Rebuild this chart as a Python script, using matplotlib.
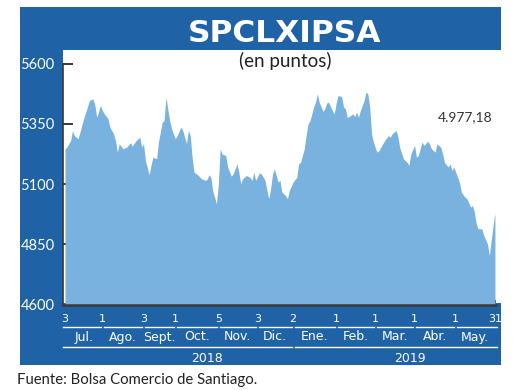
import matplotlib
matplotlib.use("Agg")
import matplotlib.pyplot as plt
import matplotlib.transforms as mtrans
from matplotlib.patches import Rectangle
from matplotlib.lines import Line2D

# ---------------- data (trading-day index, closing value) ----------------
dias = [0, 1, 3, 4, 5, 7, 9, 10, 12, 13, 15, 16, 17, 19, 20, 21, 23, 24, 26, 27,
        28, 29, 31, 33, 35, 36, 38, 40, 41, 42, 43, 45, 46, 47, 49, 50, 52, 53, 54, 55,
        56, 57, 59, 60, 62, 63, 65, 66, 67, 68, 69, 71, 73, 75, 76, 77, 78, 79, 81, 82,
        83, 84, 86, 87, 89, 90, 92, 93, 94, 95, 97, 99, 100, 101, 102, 104, 105, 107, 108, 109,
        110, 111, 112, 114, 115, 116, 118, 119, 120, 122, 124, 125, 126, 128, 129, 130, 131, 133, 134, 135,
        136, 138, 139, 140, 141, 143, 144, 145, 146, 148, 149, 150, 151, 152, 154, 155, 156, 157, 158, 160,
        161, 162, 163, 164, 165, 166, 167, 168, 170, 171, 173, 174, 175, 177, 178, 179, 181, 183, 184, 185,
        187, 188, 189, 191, 192, 194, 195, 196, 198, 199, 201, 202, 203, 205, 206, 207, 208, 210, 211, 212,
        214, 215, 217, 218, 219, 220, 221, 223, 224, 226, 227, 228, 229, 230]
cierre = [5246, 5253, 5280, 5322, 5301, 5288, 5343, 5373, 5419, 5446, 5453, 5426, 5377, 5426, 5405, 5391, 5371, 5336, 5308, 5280,
          5232, 5267, 5246, 5253, 5271, 5257, 5280, 5294, 5253, 5267, 5198, 5138, 5177, 5211, 5205, 5274, 5356, 5363, 5460, 5410,
          5363, 5329, 5288, 5301, 5336, 5322, 5267, 5322, 5301, 5211, 5149, 5138, 5122, 5115, 5119, 5138, 5128, 5073, 5018, 5094,
          5246, 5225, 5218, 5170, 5132, 5142, 5184, 5149, 5101, 5122, 5135, 5128, 5115, 5149, 5115, 5146, 5142, 5115, 5073, 5039,
          5080, 5140, 5163, 5108, 5115, 5066, 5052, 5039, 5073, 5108, 5128, 5184, 5190, 5246, 5301, 5350, 5361, 5419, 5439, 5474,
          5439, 5402, 5412, 5436, 5439, 5405, 5391, 5433, 5467, 5463, 5419, 5412, 5377, 5380, 5391, 5380, 5398, 5377, 5405, 5446,
          5481, 5474, 5419, 5308, 5274, 5250, 5232, 5239, 5267, 5280, 5301, 5294, 5308, 5322, 5301, 5253, 5205, 5190, 5177, 5225,
          5260, 5211, 5218, 5274, 5260, 5277, 5267, 5246, 5232, 5267, 5253, 5225, 5190, 5170, 5184, 5156, 5170, 5128, 5108, 5066,
          5045, 5039, 5004, 5011, 4983, 4935, 4914, 4914, 4886, 4852, 4803, 4865, 4928, 4977.18]

titulo = "SPCLXIPSA"
subtitulo = "(en puntos)"
ultimo_texto = "4.977,18"
fuente = "Fuente: Bolsa Comercio de Santiago."
yticks = [4600, 4850, 5100, 5350, 5600]
tick_pos = [0, 20, 42, 59, 82, 103, 122, 145, 166, 187, 209, 230]
tick_lab = ["3", "1", "3", "1", "5", "3", "2", "1", "1", "1", "1", "31"]
meses = ["Jul.", "Ago.", "Sept.", "Oct.", "Nov.", "Dic.", "Ene.", "Feb.", "Mar.", "Abr.", "May."]
anios = ["2018", "2019"]
anio_pos = [76, 184.5]
anio_lim = [(-1.07, 121.4), (123.2, 231.0)]

# ---------------- styling ----------------
W, H = 520, 390
AZUL = "#1f63a6"
RELLENO = "#79b1df"
OSCURO = "#3a3a3a"
NARROW = ["Liberation Sans Narrow", "DejaVu Sans"]
HUM = ["Lato", "DejaVu Sans"]

fig = plt.figure(figsize=(W / 100, H / 100), dpi=100)
fig.patch.set_facecolor("white")


def fx(px):
    return px / W


def fy(py):
    return 1 - py / H


# blue frame and white panel (pixel coords from top-left)
fig.add_artist(Rectangle((fx(20), fy(365)), fx(501) - fx(20), fy(7) - fy(365),
                         transform=fig.transFigure, facecolor=AZUL, edgecolor="none", zorder=-10))
fig.add_artist(Rectangle((fx(63), fy(302.5)), 1 - fx(63), fy(50) - fy(302.5),
                         transform=fig.transFigure, facecolor="white", edgecolor="none", zorder=-9))

x0, x1 = -1.07, 230.3
ax = fig.add_axes([fx(63), fy(304.5), fx(495.5) - fx(63), fy(63.5) - fy(304.5)])
ax.set_facecolor("none")
ax.set_xlim(x0, x1)
ax.set_ylim(4600, 5600)

ax.fill_between(dias, cierre, 4600, color=RELLENO, linewidth=0, zorder=2)

for s in ["top", "right"]:
    ax.spines[s].set_visible(False)
ax.spines["left"].set_color(OSCURO)
ax.spines["left"].set_linewidth(1.2)
ax.spines["bottom"].set_color(OSCURO)
ax.spines["bottom"].set_linewidth(1.8)
ax.spines["left"].set_zorder(3)
ax.spines["bottom"].set_zorder(3)
ax.set_axisbelow(True)

ax.set_yticks(yticks)
ax.set_yticklabels([str(v) for v in yticks], color="white", fontsize=10.5, family=HUM)
ax.tick_params(axis="y", direction="in", length=7.5, width=1.4, color=OSCURO, pad=6)
ax.set_xticks([tick_pos[-1]])
ax.set_xticklabels([])
ax.tick_params(axis="x", direction="in", length=3.5, width=1.4, color=OSCURO)

# x-axis annotations in blue band
tr = mtrans.blended_transform_factory(ax.transData, fig.transFigure)
for p, lab in zip(tick_pos, tick_lab):
    ax.text(p, fy(322.5), lab, transform=tr, ha="center", va="baseline",
            color="white", fontsize=8, family=NARROW, clip_on=False)
for i, m in enumerate(meses):
    a = tick_pos[i] + 0.9 if i > 0 else x0
    b = tick_pos[i + 1] - 0.8 if i < len(meses) - 1 else 231.0
    fig.add_artist(Line2D([a, b], [fy(326.5), fy(326.5)], transform=tr,
                          color="white", linewidth=1.0))
    ax.text((tick_pos[i] + tick_pos[i + 1]) / 2, fy(340.5), m, transform=tr,
            ha="center", va="baseline", color="white", fontsize=9, family=NARROW, clip_on=False)
for (a, b), lab, p in zip(anio_lim, anios, anio_pos):
    fig.add_artist(Line2D([a, b], [fy(347), fy(347)], transform=tr,
                          color="white", linewidth=1.0))
    ax.text(p, fy(361.5), lab, transform=tr, ha="center", va="baseline",
            color="white", fontsize=9, family=NARROW, clip_on=False)

# texts
fig.text(fx(284.5), fy(42), titulo, ha="center", va="baseline", color="white",
         fontsize=22.5, fontweight="bold", family=["DejaVu Sans"])
fig.text(fx(285), fy(67), subtitulo, ha="center", va="baseline", color="#222222",
         fontsize=13.5, family=HUM)
fig.text(fx(465), fy(121), ultimo_texto, ha="center", va="baseline", color="#333333",
         fontsize=10, family=HUM)
fig.text(fx(17), fy(384), fuente, ha="left", va="baseline", color="#222222",
         fontsize=10.7, family=HUM)

fig.savefig("out.png", dpi=100)
